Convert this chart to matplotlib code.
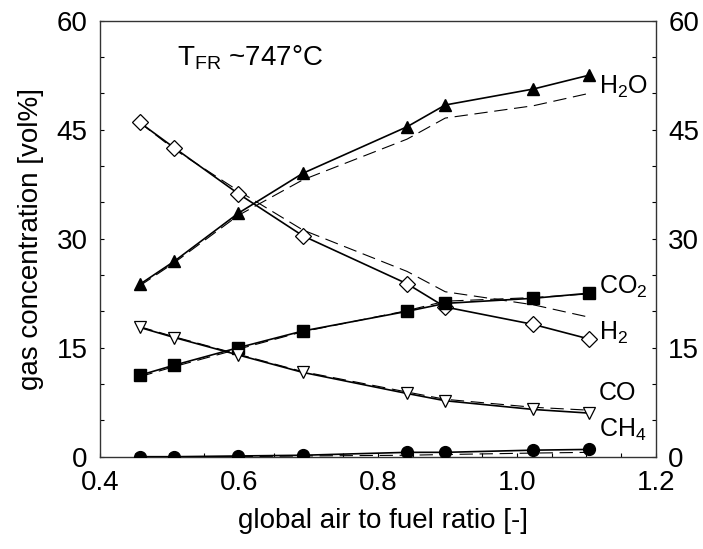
import matplotlib
matplotlib.use("Agg")
import matplotlib.pyplot as plt
from matplotlib.ticker import MultipleLocator

plt.rcParams['font.family'] = ['Liberation Sans', 'DejaVu Sans']
plt.rcParams['mathtext.fontset'] = 'custom'
plt.rcParams['mathtext.rm'] = 'Liberation Sans'
plt.rcParams['mathtext.it'] = 'Liberation Sans'

# data
air_fuel_ratio = [0.457, 0.507, 0.599, 0.692, 0.842, 0.897, 1.024, 1.104]

h2o_meas = [23.7, 26.9, 33.5, 39.0, 45.4, 48.4, 50.6, 52.5]
h2_meas = [46.0, 42.5, 36.2, 30.4, 23.8, 20.6, 18.2, 16.2]
co2_meas = [11.2, 12.6, 15.0, 17.3, 20.0, 21.1, 21.8, 22.5]
co_meas = [17.8, 16.4, 14.0, 11.6, 8.7, 7.7, 6.5, 6.0]
ch4_meas = [0.0, 0.0, 0.1, 0.2, 0.6, 0.6, 0.9, 1.0]

h2o_model = [23.5, 26.7, 33.2, 38.1, 43.7, 46.6, 48.3, 50.0]
h2_model = [46.0, 42.3, 36.6, 31.2, 25.5, 22.7, 20.9, 19.2]
co2_model = [11.0, 12.4, 14.8, 17.2, 20.1, 21.4, 21.9, 22.4]
co_model = [17.9, 16.5, 14.1, 11.7, 8.9, 7.9, 6.8, 6.4]
ch4_model = [0.0, 0.0, 0.0, 0.1, 0.2, 0.3, 0.5, 0.6]

species_labels = ['H$_\\mathrm{2}$O', 'CO$_\\mathrm{2}$', 'H$_\\mathrm{2}$', 'CO', 'CH$_\\mathrm{4}$']
label_y = [50.9, 23.4, 17.0, 8.8, 3.7]

x_ticks = [0.4, 0.6, 0.8, 1.0, 1.2]
y_ticks = [0, 15, 30, 45, 60]

fig = plt.figure(figsize=(7.03, 5.49), dpi=100)
ax = fig.add_axes([100/703, 1-456.7/549, 555.7/703, 436/549])

lw = 1.2
dash_kw = dict(color='black', lw=0.8, dashes=(12, 6))
for ys in [h2o_model, h2_model, co2_model, co_model, ch4_model]:
    ax.plot(air_fuel_ratio, ys, **dash_kw, zorder=2)

ax.plot(air_fuel_ratio, h2o_meas, color='black', lw=lw, marker='^', ms=9,
        mfc='black', mec='black', zorder=3)
ax.plot(air_fuel_ratio, h2_meas, color='black', lw=lw, marker='D', ms=8,
        mfc='white', mec='black', mew=0.9, zorder=3)
ax.plot(air_fuel_ratio, co2_meas, color='black', lw=lw, marker='s', ms=8.5,
        mfc='black', mec='black', zorder=3)
ax.plot(air_fuel_ratio, co_meas, color='black', lw=lw, marker='v', ms=9,
        mfc='white', mec='black', mew=0.9, zorder=3)
ax.plot(air_fuel_ratio, ch4_meas, color='black', lw=lw, marker='o', ms=8.5,
        mfc='black', mec='black', zorder=3)

for lab, yv in zip(species_labels, label_y):
    ax.text(1.118, yv, lab, fontsize=18, va='center', ha='left')

ax.text(0.511, 53.8, 'T$_\\mathrm{FR}$ ~747°C', fontsize=20, va='baseline', ha='left')

ax.set_xlim(0.4, 1.2)
ax.set_ylim(0, 60)
ax.set_xticks(x_ticks)
ax.set_xticklabels([f'{v:.1f}' for v in x_ticks])
ax.set_yticks(y_ticks)
ax.xaxis.set_minor_locator(MultipleLocator(0.05))
ax.yaxis.set_minor_locator(MultipleLocator(5))

ax.tick_params(which='both', direction='in', length=3, width=0.8,
               left=True, right=True, top=False, bottom=True,
               labelright=True, labelsize=20)
ax.tick_params(axis='x', pad=9.5)
ax.tick_params(axis='y', pad=9)
for sp in ax.spines.values():
    sp.set_linewidth(1.0)
    sp.set_color('#333333')

ax.set_xlabel('global air to fuel ratio [-]', fontsize=20, va='center')
ax.xaxis.set_label_coords(0.51, -0.147)
ax.set_ylabel('gas concentration [vol%]', fontsize=20, va='center')
ax.yaxis.set_label_coords(-0.124, 0.5)

fig.savefig('out.png', dpi=100)
